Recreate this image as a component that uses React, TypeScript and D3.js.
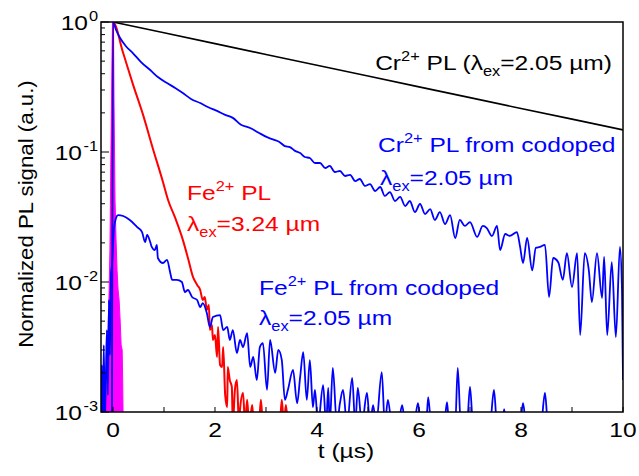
import React from 'react';
import * as d3 from 'd3';

// [t (µs), normalized PL]
const CR_PL: [number, number][] = [
  [0, 1], [1, 0.826], [2, 0.682], [3, 0.563], [4, 0.465], [5, 0.384],
  [6, 0.317], [7, 0.262], [8, 0.216], [9, 0.179], [10, 0.148],
];

const CR_CODOPED: [number, number][] = [
  [-0.02, 0.0008], [0, 1], [0.06, 0.868], [0.14, 0.753], [0.25, 0.654], [0.39, 0.577],
  [0.55, 0.492], [0.73, 0.427], [0.88, 0.377], [1.06, 0.339], [1.22, 0.311], [1.37, 0.284],
  [1.53, 0.256], [1.71, 0.238], [1.86, 0.222], [2.04, 0.207], [2.2, 0.193], [2.35, 0.183],
  [2.51, 0.162], [2.69, 0.153], [2.84, 0.142], [3.02, 0.130], [3.16, 0.124], [3.27, 0.119],
  [3.37, 0.111], [3.47, 0.109], [3.57, 0.102], [3.67, 0.0982], [3.76, 0.0915], [3.86, 0.0899],
  [3.96, 0.0823], [4.06, 0.0823], [4.16, 0.0753], [4.25, 0.0781], [4.35, 0.0702], [4.45, 0.0714],
  [4.55, 0.0654], [4.65, 0.0666], [4.75, 0.0598], [4.84, 0.062], [4.94, 0.0548], [5.04, 0.0567],
  [5.14, 0.0501], [5.24, 0.0538], [5.33, 0.0459], [5.43, 0.0492], [5.53, 0.042], [5.63, 0.0451],
  [5.73, 0.0384], [5.82, 0.042], [5.92, 0.0345], [6.02, 0.0398], [6.12, 0.0333], [6.22, 0.0364],
  [6.31, 0.03], [6.41, 0.0345], [6.51, 0.0279], [6.61, 0.0327], [6.71, 0.0218], [6.8, 0.03],
  [6.9, 0.027], [7.0, 0.0289], [7.14, 0.0222], [7.25, 0.027], [7.33, 0.026], [7.43, 0.0226],
  [7.53, 0.027], [7.59, 0.0176], [7.69, 0.0234], [7.78, 0.0226], [7.92, 0.0242], [7.98, 0.0189],
  [8.04, 0.014], [8.12, 0.0218], [8.22, 0.0123], [8.29, 0.0183], [8.37, 0.0186], [8.47, 0.0193],
  [8.55, 0.00767], [8.63, 0.0153], [8.73, 0.0142], [8.82, 0.0104], [8.9, 0.0167], [9.0, 0.00915],
  [9.1, 0.0167], [9.16, 0.00391], [9.25, 0.0167], [9.33, 0.0123], [9.39, 0.00702], [9.49, 0.0167],
  [9.59, 0.00753], [9.63, 0.0156], [9.69, 0.00391], [9.78, 0.0142], [9.86, 0.00377], [9.94, 0.0186],
  [9.98, 0.00868], [10.0, 0.00176],
];

const FE_PL: [number, number][] = [
  [-0.02, 0.0008], [0, 1], [0.2, 0.577], [0.39, 0.333], [0.59, 0.193], [0.78, 0.107],
  [0.98, 0.0588], [1.08, 0.0427], [1.22, 0.0311], [1.37, 0.0211], [1.47, 0.0153], [1.57, 0.0109],
  [1.65, 0.0095], [1.71, 0.00868], [1.76, 0.00727], [1.8, 0.00767], [1.84, 0.0061], [1.88, 0.00666],
  [1.9, 0.00427], [1.94, 0.00467], [1.96, 0.00358], [2.0, 0.00391], [2.04, 0.00265], [2.06, 0.00451],
  [2.1, 0.0023], [2.14, 0.00222], [2.16, 0.00316], [2.2, 0.00135], [2.24, 0.00109], [2.25, 0.00222],
  [2.29, 0.00176], [2.33, 0.00156], [2.35, 0.0008], [2.39, 0.00148], [2.43, 0.00176], [2.47, 0.0008],
  [2.49, 0.00104], [2.55, 0.0014], [2.59, 0.0008], [2.63, 0.00124], [2.67, 0.0008], [2.73, 0.00113],
  [2.76, 0.0008], [2.86, 0.0008], [2.9, 0.00124], [2.94, 0.0008], [3.27, 0.0008], [3.31, 0.00124],
  [3.35, 0.0008], [3.39, 0.00113], [3.43, 0.0008],
];

const FE_CODOPED: [number, number][] = [
  [-0.235, 0.0008], [-0.22, 0.0023], [-0.2, 0.0008], [-0.18, 0.00327], [-0.16, 0.0008], [-0.14, 0.00183],
  [-0.12, 0.00427], [-0.1, 0.00135], [-0.08, 0.00727], [-0.06, 0.00275], [-0.04, 0.0113], [-0.02, 0.0134],
  [0.02, 0.026], [0.06, 0.0311], [0.1, 0.0327], [0.2, 0.0322], [0.33, 0.03], [0.47, 0.0265],
  [0.57, 0.0242], [0.63, 0.0203], [0.67, 0.023], [0.73, 0.0203], [0.76, 0.0186], [0.82, 0.0176],
  [0.86, 0.0193], [0.88, 0.0153], [0.98, 0.014], [1.06, 0.0148], [1.12, 0.0119], [1.16, 0.0104],
  [1.25, 0.0104], [1.35, 0.01], [1.41, 0.00838], [1.47, 0.00868], [1.55, 0.00767], [1.65, 0.00727],
  [1.71, 0.00642], [1.76, 0.00689], [1.84, 0.00577], [1.9, 0.00451], [1.96, 0.00538], [2.1, 0.00557],
  [2.16, 0.00427], [2.24, 0.00451], [2.29, 0.00358], [2.35, 0.00427], [2.43, 0.00284], [2.49, 0.00358],
  [2.55, 0.00316], [2.63, 0.00405], [2.69, 0.00222], [2.75, 0.00265], [2.82, 0.00176], [2.88, 0.00316],
  [2.94, 0.00339], [3.02, 0.00148], [3.08, 0.00358], [3.18, 0.002], [3.24, 0.003], [3.31, 0.00251],
  [3.37, 0.00124], [3.43, 0.00148], [3.53, 0.00211], [3.61, 0.00117], [3.67, 0.00186], [3.73, 0.00289],
  [3.8, 0.00124], [3.86, 0.00251], [3.92, 0.00109], [3.96, 0.00148], [4.02, 0.0008], [4.12, 0.00161],
  [4.18, 0.0008], [4.22, 0.00153], [4.25, 0.0008], [4.31, 0.00218], [4.39, 0.0008], [4.45, 0.00117],
  [4.51, 0.00148], [4.59, 0.0008], [4.69, 0.00183], [4.75, 0.0008], [4.8, 0.00153], [4.88, 0.0008],
  [4.98, 0.0014], [5.04, 0.0008], [5.1, 0.00113], [5.16, 0.0008], [5.27, 0.00203], [5.33, 0.0008],
  [5.39, 0.00124], [5.47, 0.0008], [5.59, 0.0008], [5.67, 0.00113], [5.73, 0.0008], [5.9, 0.0008],
  [5.98, 0.00117], [6.04, 0.0008], [6.14, 0.0008], [6.18, 0.0013], [6.24, 0.0008], [6.49, 0.0008],
  [6.55, 0.00119], [6.59, 0.0008], [6.71, 0.0008], [6.76, 0.00218], [6.82, 0.0008], [6.94, 0.0008],
  [7.0, 0.00156], [7.06, 0.0008], [7.39, 0.0008], [7.47, 0.00148], [7.53, 0.0008], [7.63, 0.0008],
  [7.67, 0.00105], [7.71, 0.0008], [7.98, 0.0008], [8.04, 0.00117], [8.1, 0.0008], [8.39, 0.0008],
  [8.47, 0.0014], [8.53, 0.0008], [10, 0.0008],
];

// excitation pulse outline (filled)
const PULSE: [number, number][] = [
  [-0.16, 0.0008], [-0.12, 0.00176], [-0.1, 0.00358], [-0.08, 0.00727], [-0.06, 0.0176],
  [-0.04, 0.104], [-0.02, 0.51], [-0.01, 1], [0.01, 1], [0.02, 0.251], [0.04, 0.0427],
  [0.06, 0.0211], [0.08, 0.0123], [0.1, 0.00868], [0.12, 0.00727], [0.14, 0.0051],
  [0.16, 0.00327], [0.18, 0.003], [0.19, 0.00176], [0.2, 0.0008],
];

const X_LABELS = [0, 2, 4, 6, 8, 10];
const Y_LABELS = [
  { v: 1, exp: '0' },
  { v: 0.1, exp: '-1' },
  { v: 0.01, exp: '-2' },
  { v: 0.001, exp: '-3' },
];

const W = 639, H = 476;
const m = { l: 101, r: 623, t: 22, b: 412 };
const FONT = "'Liberation Sans', Arial, sans-serif";
const SX = 1.17;

function Txt({ x, y, anchor = 'start', fill = '#000', rotate = 0, sx = SX, children }: any) {
  return (
    <g transform={`translate(${x},${y}) rotate(${rotate}) scale(${sx},1)`}>
      <text textAnchor={anchor} fill={fill} fontSize={21} fontFamily={FONT}>{children}</text>
    </g>
  );
}

const Sup = ({ t, rest }: { t: string; rest: string }) => (
  <>
    <tspan fontSize={14} dy={-9}>{t}</tspan>
    <tspan dy={9}>{rest}</tspan>
  </>
);

const Lam = ({ rest }: { rest: string }) => (
  <>
    <tspan>λ</tspan>
    <tspan fontSize={14} dy={6}>ex</tspan>
    <tspan dy={-6}>{rest}</tspan>
  </>
);

export default function App() {
  const x = d3.scaleLinear().domain([-0.235, 10]).range([m.l, m.r]);
  const y = d3.scaleLog().domain([1e-3, 1]).range([m.b, m.t]);
  const line = d3.line<[number, number]>().x(d => x(d[0])).y(d => y(d[1]));
  const smooth = d3.line<[number, number]>().x(d => x(d[0])).y(d => y(d[1])).curve(d3.curveMonotoneX);
  const yTicks = y.ticks();
  const xTicks = x.ticks(10);

  return (
    <svg width={W} height={H} style={{ position: 'absolute', left: 0, top: 0, background: '#fff' }}>
      <defs>
        <clipPath id="plot">
          <rect x={m.l} y={m.t} width={m.r - m.l} height={m.b - m.t} />
        </clipPath>
      </defs>

      <g clipPath="url(#plot)" fill="none" strokeLinejoin="round">
        <path d={line(PULSE) + 'Z'} fill="#ff00ff" stroke="#ff00ff" strokeWidth={1} />
        <path d={line(CR_PL)!} stroke="#000" strokeWidth={1.6} />
        <path d={smooth(FE_PL)!} stroke="#ff0000" strokeWidth={2} />
        <path d={smooth(CR_CODOPED)!} stroke="#0000ff" strokeWidth={1.8} />
        <path d={smooth(FE_CODOPED)!} stroke="#0000ff" strokeWidth={1.8} />
      </g>

      {/* ticks */}
      <g stroke="#000" strokeWidth={1}>
        {yTicks.map((v, i) => {
          const major = Math.abs(Math.log10(v) - Math.round(Math.log10(v))) < 1e-6;
          return <line key={'y' + i} x1={m.l} x2={m.l + (major ? 8 : 4)} y1={y(v)} y2={y(v)} />;
        })}
        {xTicks.map((t, i) => (
          <line key={'x' + i} x1={x(t)} x2={x(t)} y1={m.b} y2={m.b - 5} />
        ))}
      </g>
      <rect x={m.l} y={m.t} width={m.r - m.l} height={m.b - m.t} fill="none" stroke="#000" strokeWidth={1.5} />

      {Y_LABELS.map(d => (
        <Txt key={d.exp} x={98} y={y(d.v) + 7.5} anchor="end">
          <Sup t={d.exp} rest="" />
        </Txt>
      ))}
      {Y_LABELS.map(d => (
        <Txt key={'b' + d.exp} x={98 - (d.exp.length === 1 ? 10 : 16)} y={y(d.v) + 7.5} anchor="end">10</Txt>
      ))}
      {X_LABELS.map(t => (
        <Txt key={t} x={x(t)} y={437} anchor="middle">{t}</Txt>
      ))}

      <Txt x={346} y={458} anchor="middle">t (µs)</Txt>
      <Txt x={33} y={214} anchor="middle" rotate={-90} sx={1.06}>Normalized PL signal (a.u.)</Txt>

      <Txt x={612} y={70} anchor="end">
        Cr<Sup t="2+" rest=" PL (" /><Lam rest="=2.05 µm)" />
      </Txt>
      <Txt x={378} y={152} fill="#0000ff">
        Cr<Sup t="2+" rest=" PL from codoped" />
      </Txt>
      <Txt x={380} y={185} fill="#0000ff">
        <Lam rest="=2.05 µm" />
      </Txt>
      <Txt x={187} y={200} fill="#ff0000">
        Fe<Sup t="2+" rest=" PL" />
      </Txt>
      <Txt x={187} y={231} fill="#ff0000">
        <Lam rest="=3.24 µm" />
      </Txt>
      <Txt x={259} y={295} fill="#0000ff">
        Fe<Sup t="2+" rest=" PL from codoped" />
      </Txt>
      <Txt x={259} y={325} fill="#0000ff">
        <Lam rest="=2.05 µm" />
      </Txt>
    </svg>
  );
}
